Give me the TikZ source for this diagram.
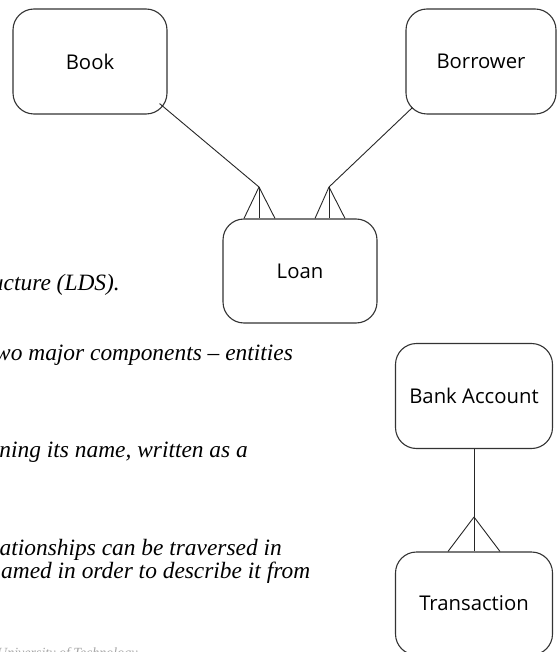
\documentclass[tikz,border=0pt]{standalone}
\usepackage{fontspec}
\setmainfont{Liberation Serif}
\newfontfamily\entfont{Open Sans}
\usetikzlibrary{calc}

\begin{document}
\begin{tikzpicture}[
    x=1pt, y=-1pt,
    ent/.style={draw=black!80, line width=1.1pt, rounded corners=21pt, minimum width=154pt,
                minimum height=105pt, inner sep=0pt, font=\entfont\fontsize{20.3}{24}\selectfont},
    wire/.style={draw=black!85, line width=0.9pt},
    prose/.style={inner sep=0pt, font=\itshape\fontsize{23.4}{28}\selectfont},
    footer/.style={inner sep=0pt, text=black!35, font=\itshape\fontsize{14}{16}\selectfont},
  ]
  \useasboundingbox (0,0) rectangle (557,652);
  \clip (0,0) rectangle (557,652);

  % ---------------- page text behind the figure
  \node[prose, anchor=base east] (lds) at (120,290) {ucture (LDS).};
  \node[prose, anchor=base west] (comp) at (-5,360) {wo major components – entities};
  \node[prose, anchor=base east] (nm) at (248,457) {ning its name, written as a};
  \node[prose, anchor=base east] (trav) at (282,555) {ationships can be traversed in};
  \node[prose, anchor=base west] (desc) at (1,578) {amed in order to describe it from};
  \node[footer, anchor=base west] (uni) at (-3,657) {University of Technology};

  % ---------------- library entities
  \node[ent] (book) at (90,61.5) {Book};
  \node[ent, minimum width=150pt] (borrower) at (481,61.5) {Borrower};
  \node[ent, minimum height=104pt] (loan) at (300,271) {Loan};

  \coordinate (lapex) at (259,187);
  \coordinate (rapex) at (329,187);
  \draw[wire] ($(book.south east)+(-8,-11)$) -- (lapex);
  \draw[wire] ($(borrower.south west)+(7,-7)$) -- (rapex);
  \foreach \dx in {-15,0,16} {
    \draw[wire] (lapex) -- ($(lapex |- loan.north)+(\dx,0)$);
  }
  \foreach \dx in {-14,0,16} {
    \draw[wire] (rapex) -- ($(rapex |- loan.north)+(\dx,0)$);
  }

  % ---------------- bank entities
  \node[ent, minimum width=157pt] (bank) at (474,396) {Bank Account};
  \node[ent, minimum width=157pt, minimum height=103pt] (trans) at (474,603.5) {Transaction};

  \coordinate (bapex) at (474,517);
  \draw[wire] (bank.south) -- (trans.north);
  \foreach \dx in {-26,26} {
    \draw[wire] (bapex) -- ($(bapex |- trans.north)+(\dx,0)$);
  }
\end{tikzpicture}
\end{document}
